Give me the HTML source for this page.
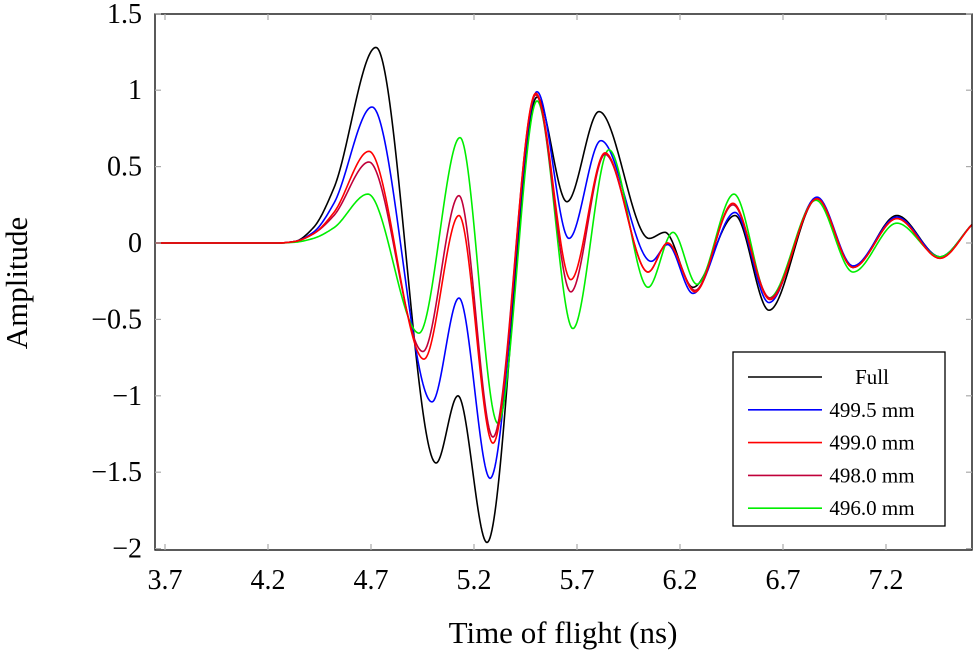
<!DOCTYPE html>
<html><head><meta charset="utf-8"><style>
body{margin:0;background:#fff;}
svg text{font-family:"Liberation Serif",serif;}
</style></head><body>
<svg id="chart" width="975" height="656" xmlns="http://www.w3.org/2000/svg">
<g id="grid"></g>
<g id="series"></g>
<rect x="155" y="14" width="817" height="536" fill="none" stroke="#000" stroke-width="1.3"/>
<g id="ticks"></g>
<text x="563" y="643" font-size="31" text-anchor="middle">Time of flight (ns)</text>
<text transform="translate(27,283) rotate(-90)" font-size="31" text-anchor="middle">Amplitude</text>
<g id="legend"></g>
</svg>
<script>
const xTicks=[3.7,4.2,4.7,5.2,5.7,6.2,6.7,7.2];
const yTicks=[1.5,1,0.5,0,-0.5,-1,-1.5,-2];
const seriesNames=["Full","499.5 mm","499.0 mm","498.0 mm","496.0 mm"];
const seriesColors=["#000000","#0000ff","#ff0000","#c0003a","#00ee00"];
const tFull=[3.65,4.25,4.33,4.42,4.52,4.724,5.016,5.122,5.263,5.506,5.651,5.807,6.05,6.127,6.263,6.467,6.632,6.865,7.04,7.253,7.462,7.617];
const vFull=[0,0,0.01,0.10,0.36,1.28,-1.44,-1.0,-1.96,0.955,0.27,0.86,0.03,0.07,-0.29,0.18,-0.44,0.29,-0.16,0.18,-0.09,0.12];
const t4995=[3.65,4.25,4.33,4.42,4.52,4.705,4.996,5.127,5.278,5.506,5.661,5.816,6.06,6.14,6.263,6.467,6.632,6.865,7.04,7.253,7.462,7.617];
const v4995=[0,0,0.01,0.07,0.26,0.89,-1.04,-0.36,-1.54,0.99,0.03,0.67,-0.12,-0.01,-0.33,0.20,-0.39,0.30,-0.15,0.17,-0.09,0.12];
const t4990=[3.65,4.25,4.33,4.42,4.52,4.69,4.957,5.127,5.292,5.50,5.67,5.836,6.045,6.14,6.273,6.457,6.637,6.865,7.04,7.253,7.462,7.617];
const v4990=[0,0,0.01,0.06,0.20,0.60,-0.76,0.18,-1.31,0.98,-0.24,0.59,-0.19,0.0,-0.32,0.26,-0.37,0.29,-0.16,0.16,-0.10,0.12];
const t4980=[3.65,4.25,4.33,4.42,4.52,4.69,4.952,5.127,5.292,5.50,5.67,5.836,6.045,6.14,6.273,6.457,6.637,6.865,7.04,7.253,7.462,7.617];
const v4980=[0,0,0.01,0.06,0.18,0.53,-0.71,0.31,-1.27,0.97,-0.32,0.58,-0.19,0.0,-0.31,0.25,-0.36,0.29,-0.16,0.16,-0.10,0.12];
const t4960=[3.65,4.25,4.33,4.42,4.52,4.685,4.933,5.132,5.316,5.506,5.68,5.855,6.045,6.166,6.282,6.462,6.632,6.86,7.04,7.253,7.462,7.617];
const v4960=[0,0,0.005,0.03,0.10,0.32,-0.59,0.69,-1.18,0.93,-0.56,0.61,-0.29,0.07,-0.27,0.32,-0.36,0.28,-0.19,0.13,-0.09,0.12];
const seriesT=[tFull,t4995,t4990,t4980,t4960];
const seriesV=[vFull,v4995,v4990,v4980,v4960];

const NS="http://www.w3.org/2000/svg";
const X=t=>165+(t-3.7)*206;
const Y=v=>243-v*152.8;
function mk(tag,attrs,parent){const e=document.createElementNS(NS,tag);for(const k in attrs)e.setAttribute(k,attrs[k]);parent.appendChild(e);return e;}
const ticks=document.getElementById('ticks');
xTicks.forEach(t=>{
  const l=mk('line',{x1:X(t),x2:X(t),y1:550,y2:544,stroke:'#aaa','stroke-width':1.2},ticks);
  
  
  const l2=mk('line',{x1:X(t),x2:X(t),y1:14,y2:20,stroke:'#aaa','stroke-width':1.2},ticks);
  
  
  const tx=mk('text',{x:X(t),y:589,'font-size':28,'text-anchor':'middle'},ticks);
  tx.textContent=t.toFixed(1);
  
  
});
yTicks.forEach(v=>{
  const l=mk('line',{x1:155,x2:161,y1:Y(v),y2:Y(v),stroke:'#aaa','stroke-width':1.2},ticks);
  
  
  const l2=mk('line',{x1:966,x2:972,y1:Y(v),y2:Y(v),stroke:'#aaa','stroke-width':1.2},ticks);
  
  
  const tx=mk('text',{x:142,y:Y(v)+9,'font-size':28,'text-anchor':'end'},ticks);
  tx.textContent=(v<0?'\u2212':'')+String(Math.abs(v));
  
  
});
function monotone(xs,ys){
  const n=xs.length,d=[],m=new Array(n);
  for(let i=0;i<n-1;i++)d.push((ys[i+1]-ys[i])/(xs[i+1]-xs[i]));
  m[0]=d[0];m[n-1]=d[n-2];
  for(let i=1;i<n-1;i++){if(d[i-1]*d[i]<=0)m[i]=0;else{const h0=xs[i]-xs[i-1],h1=xs[i+1]-xs[i];const w1=2*h1+h0,w2=h1+2*h0;m[i]=(w1+w2)/(w1/d[i-1]+w2/d[i]);}}
  return t=>{let i=0;while(i<n-2&&t>xs[i+1])i++;const h=xs[i+1]-xs[i],s=(t-xs[i])/h;
    const h00=2*s*s*s-3*s*s+1,h10=s*s*s-2*s*s+s,h01=-2*s*s*s+3*s*s,h11=s*s*s-s*s;
    return h00*ys[i]+h10*h*m[i]+h01*ys[i+1]+h11*h*m[i+1];};
}
const sg=document.getElementById('series');
const order=[0,1,4,3,2];
order.forEach(k=>{
  const f=monotone(seriesT[k],seriesV[k]);
  const ts=seriesT[k];let d='';
  for(let px=155;px<=972;px+=1){const t=3.7+(px-165)/206;d+=(d?'L':'M')+px+','+Y(f(Math.min(Math.max(t,ts[0]),ts[ts.length-1]))).toFixed(2);}
  const p=mk('path',{d:d,fill:'none',stroke:seriesColors[k],'stroke-width':1.6},sg);
  
  
});
const lg=document.getElementById('legend');
const box=mk('rect',{x:733,y:352,width:212,height:174,fill:'#fff',stroke:'#000','stroke-width':1.3},lg);


seriesNames.forEach((nm,i)=>{
  const y=377+i*32.8;
  const l=mk('line',{x1:748,x2:822,y1:y,y2:y,stroke:seriesColors[i],'stroke-width':1.6},lg);
  
  
  const tx=mk('text',{x:872,y:y+7,'font-size':21,'text-anchor':'middle'},lg);
  tx.textContent=nm;
  
  
});
</script>
</body></html>
